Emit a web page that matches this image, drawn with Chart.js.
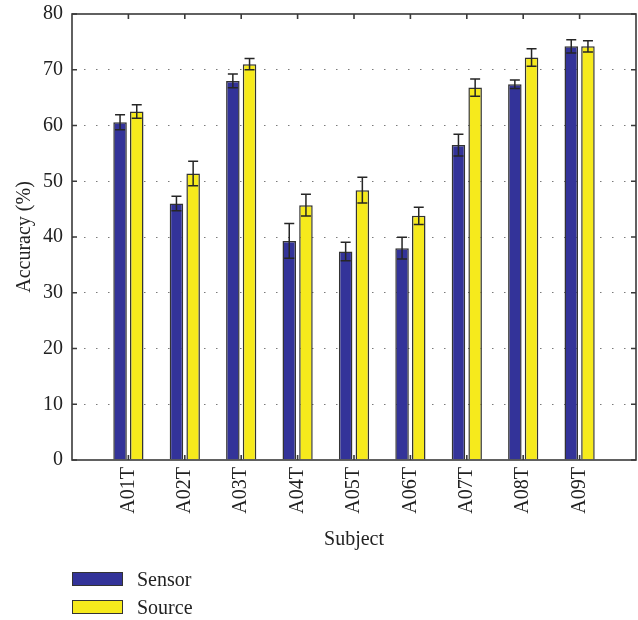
<!DOCTYPE html>
<html>
<head>
<meta charset="utf-8">
<script src="https://cdn.jsdelivr.net/npm/chart.js@4/dist/chart.umd.min.js"></script>
<style>
  html, body { margin: 0; padding: 0; background: #fff; }
  #wrap { position: relative; width: 638px; height: 620px; }
  canvas { display: block; }
  .lg-box { position: absolute; left: 72px; width: 49px; height: 12px; border: 1.5px solid #333; }
  .lg-text { position: absolute; left: 137px; font: 20px/20px 'Liberation Serif', serif; color: #222; white-space: nowrap; }
</style>
</head>
<body>
<div id="wrap">
  <canvas id="c" width="638" height="620"></canvas>
  <div class="lg-box" style="top:572px;background:#333399"></div>
  <div class="lg-text" style="top:569px">Sensor</div>
  <div class="lg-box" style="top:600px;background:#f6ea1c"></div>
  <div class="lg-text" style="top:597px">Source</div>
</div>
<script>
// Classification accuracy per subject, mean and error-bar half-width
const subjects = ['A01T', 'A02T', 'A03T', 'A04T', 'A05T', 'A06T', 'A07T', 'A08T', 'A09T'];
const sensorAcc = [60.6, 46.0, 68.0, 39.3, 37.4, 38.0, 56.5, 67.4, 74.2];
const sensorErr = [1.35, 1.3, 1.25, 3.1, 1.65, 1.95, 1.95, 0.75, 1.2];
const sourceAcc = [62.5, 51.4, 71.0, 45.7, 48.4, 43.8, 66.8, 72.2, 74.2];
const sourceErr = [1.2, 2.2, 1.0, 1.95, 2.3, 1.55, 1.55, 1.55, 1.0];
const yTicks = [0, 10, 20, 30, 40, 50, 60, 70, 80];

// pad the category axis with an empty slot on each side
const labels = [''].concat(subjects, ['']);
const pad = arr => [null].concat(arr, [null]);

const FONT = "'Liberation Serif', serif";
const INK = '#222';
const FRAME = '#3a3a3a';

const errors = [sensorErr, sourceErr];

const framePlugin = {
  id: 'frameAndErrors',
  afterDatasetsDraw(chart) {
    const ctx = chart.ctx;
    const { left, right, top, bottom } = chart.chartArea;
    const ys = chart.scales.y, xs = chart.scales.x;

    // error bars
    ctx.save();
    ctx.strokeStyle = '#262626';
    ctx.lineWidth = 1.5;
    chart.data.datasets.forEach((ds, di) => {
      const meta = chart.getDatasetMeta(di);
      meta.data.forEach((bar, i) => {
        const v = ds.data[i];
        if (v === null) return;
        const e = errors[di][i - 1];
        const x = bar.x;
        const y1 = ys.getPixelForValue(v + e);
        const y2 = ys.getPixelForValue(v - e);
        ctx.beginPath();
        ctx.moveTo(x, y1); ctx.lineTo(x, y2);
        ctx.moveTo(x - 5, y1); ctx.lineTo(x + 5, y1);
        ctx.moveTo(x - 5, y2); ctx.lineTo(x + 5, y2);
        ctx.stroke();
      });
    });
    ctx.restore();

    // box and inward tick marks
    ctx.save();
    ctx.strokeStyle = FRAME;
    ctx.lineWidth = 1.6;
    ctx.strokeRect(left, top, right - left, bottom - top);
    ctx.beginPath();
    yTicks.forEach(t => {
      const y = ys.getPixelForValue(t);
      ctx.moveTo(left, y); ctx.lineTo(left + 5, y);
      ctx.moveTo(right, y); ctx.lineTo(right - 5, y);
    });
    subjects.forEach((s, i) => {
      const x = xs.getPixelForValue(i + 1);
      ctx.moveTo(x, top); ctx.lineTo(x, top + 5);
      ctx.moveTo(x, bottom); ctx.lineTo(x, bottom - 5);
    });
    ctx.stroke();
    ctx.restore();
  }
};

new Chart(document.getElementById('c'), {
  type: 'bar',
  data: {
    labels: labels,
    datasets: [
      {
        label: 'Sensor',
        data: pad(sensorAcc),
        backgroundColor: '#333399',
        borderColor: '#333',
        borderWidth: 1.5,
        categoryPercentage: 0.592,
        barPercentage: 0.81
      },
      {
        label: 'Source',
        data: pad(sourceAcc),
        backgroundColor: '#f6ea1c',
        borderColor: '#333',
        borderWidth: 1.5,
        categoryPercentage: 0.592,
        barPercentage: 0.81
      }
    ]
  },
  options: {
    responsive: false,
    animation: false,
    layout: { padding: { left: 0, right: 2, top: 14, bottom: 60 } },
    plugins: {
      legend: { display: false },
      tooltip: { enabled: false }
    },
    scales: {
      x: {
        offset: false,
        grid: { display: false, drawTicks: false },
        border: { display: false },
        ticks: {
          autoSkip: false,
          minRotation: 90,
          maxRotation: 90,
          padding: 7,
          color: INK,
          font: { family: FONT, size: 20 }
        },
        title: {
          display: true,
          text: 'Subject',
          color: INK,
          font: { family: FONT, size: 20 },
          padding: { top: 0, bottom: 8 }
        },
        afterFit(scale) {
          scale.height = 100;
          scale.paddingLeft = 0;
          scale.paddingRight = 0;
        }
      },
      y: {
        min: 0,
        max: 80,
        ticks: {
          stepSize: 10,
          padding: 9,
          color: INK,
          font: { family: FONT, size: 20 }
        },
        grid: {
          drawTicks: false,
          lineWidth: 1,
          color: ctx => (ctx.tick && (ctx.tick.value === 0 || ctx.tick.value === 80)) ? 'rgba(0,0,0,0)' : '#7a7a7a'
        },
        border: { display: false, dash: [1.5, 10.5] },
        title: {
          display: true,
          text: 'Accuracy (%)',
          color: INK,
          font: { family: FONT, size: 20 },
          padding: { top: 13, bottom: 0 }
        },
        afterFit(scale) {
          scale.width = 72;
          scale.paddingTop = 0;
          scale.paddingBottom = 0;
        }
      }
    }
  },
  plugins: [framePlugin]
});
</script>
</body>
</html>
